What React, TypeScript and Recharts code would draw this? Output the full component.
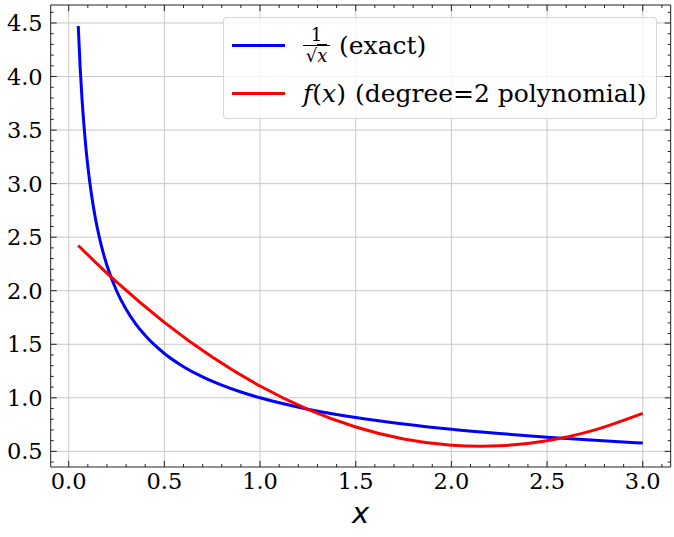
import React from 'react';
import { LineChart, Line, XAxis, YAxis, CartesianGrid, Legend } from 'recharts';

// 1/sqrt(x) curve
const exactX = [0.05, 0.06, 0.07, 0.08, 0.09, 0.1, 0.12, 0.14, 0.16, 0.18, 0.2, 0.25, 0.3, 0.35, 0.4, 0.5, 0.6, 0.7, 0.8, 0.9, 1.0, 1.25, 1.5, 1.75, 2.0, 2.25, 2.5, 2.75, 3.0];
const exactY = [4.472, 4.082, 3.78, 3.536, 3.333, 3.162, 2.887, 2.673, 2.5, 2.357, 2.236, 2.0, 1.826, 1.69, 1.581, 1.414, 1.291, 1.195, 1.118, 1.054, 1.0, 0.894, 0.816, 0.756, 0.707, 0.667, 0.632, 0.603, 0.577];

// degree-2 polynomial fit
const polyX = [0.05, 0.25, 0.5, 0.75, 1.0, 1.25, 1.5, 1.75, 2.0, 2.25, 2.5, 2.75, 3.0];
const polyY = [2.422, 2.082, 1.705, 1.381, 1.11, 0.892, 0.728, 0.616, 0.558, 0.552, 0.6, 0.701, 0.855];

const xMajorTicks = [0, 0.5, 1.0, 1.5, 2.0, 2.5, 3.0];
const xMinorTicks = [0.1, 0.2, 0.3, 0.4, 0.6, 0.7, 0.8, 0.9, 1.1, 1.2, 1.3, 1.4, 1.6, 1.7, 1.8, 1.9, 2.1, 2.2, 2.3, 2.4, 2.6, 2.7, 2.8, 2.9, 3.1];
const yMajorTicks = [0.5, 1.0, 1.5, 2.0, 2.5, 3.0, 3.5, 4.0, 4.5];
const yMinorTicks = [0.4, 0.6, 0.7, 0.8, 0.9, 1.1, 1.2, 1.3, 1.4, 1.6, 1.7, 1.8, 1.9, 2.1, 2.2, 2.3, 2.4, 2.6, 2.7, 2.8, 2.9, 3.1, 3.2, 3.3, 3.4, 3.6, 3.7, 3.8, 3.9, 4.1, 4.2, 4.3, 4.4, 4.6];

const exactData = exactX.map((x, i) => ({ x, exact: exactY[i] }));
const polyData = polyX.map((x, i) => ({ x, poly: polyY[i] }));
const xTicks = [...xMajorTicks, ...xMinorTicks].sort((a, b) => a - b);
const yTicks = [...yMajorTicks, ...yMinorTicks].sort((a, b) => a - b);

const W = 674;
const H = 537;
const X_DOMAIN: [number, number] = [-0.094, 3.146];
const Y_DOMAIN: [number, number] = [0.354, 4.668];
const AXIS = '#222';
const SERIF = '"DejaVu Serif", serif';
const SANS = '"DejaVu Sans", sans-serif';
const TICK_FONT = 22.5;

const isMajor = (v: number) => Math.abs(v * 2 - Math.round(v * 2)) < 1e-6;

// inward ticks (6px major, 3px minor) with matplotlib-like labels outside
const makeTick = (side: 'bottom' | 'top' | 'left' | 'right') => (p: any) => {
  const { x, y, payload } = p;
  const v = payload.value as number;
  const major = isMajor(v);
  const len = major ? 6 : 3;
  let line;
  if (side === 'bottom') line = { x1: x, x2: x, y1: y, y2: y - len };
  else if (side === 'top') line = { x1: x, x2: x, y1: y, y2: y + len };
  else if (side === 'left') line = { x1: x, x2: x + len, y1: y, y2: y };
  else line = { x1: x, x2: x - len, y1: y, y2: y };
  return (
    <g>
      <line {...line} stroke={AXIS} strokeWidth={1} />
      {major && side === 'bottom' && (
        <text x={x} y={y + 22.3} textAnchor="middle" fontFamily={SERIF} fontSize={TICK_FONT} fill="#000">
          {v.toFixed(1)}
        </text>
      )}
      {major && side === 'left' && (
        <text x={x - 8} y={y + 8.1} textAnchor="end" fontFamily={SERIF} fontSize={TICK_FONT} fill="#000">
          {v.toFixed(1)}
        </text>
      )}
    </g>
  );
};

const bottomTick = makeTick('bottom');
const topTick = makeTick('top');
const leftTick = makeTick('left');
const rightTick = makeTick('right');

const renderLegend = (props: any) => {
  const payload = props.payload || [];
  return (
    <div
      style={{
        boxSizing: 'border-box',
        width: 434,
        height: 102,
        border: '1px solid rgba(204,204,204,0.8)',
        borderRadius: 4,
        background: 'rgba(255,255,255,0.8)',
        position: 'relative',
        fontFamily: SERIF,
        fontSize: 25,
        color: '#000',
      }}
    >
      {payload.map((entry: any, i: number) => (
        <div
          key={entry.value}
          style={{
            position: 'absolute',
            left: 8,
            top: (i === 0 ? 27 : 75) - 20,
            height: 40,
            display: 'flex',
            alignItems: 'center',
            whiteSpace: 'nowrap',
          }}
        >
          <span style={{ display: 'inline-block', width: 53, height: 3, background: entry.color }} />
          <span style={{ marginLeft: 18, display: 'flex', alignItems: 'center' }}>
            {entry.dataKey === 'exact' ? (
              <>
                <span style={{ display: 'inline-flex', flexDirection: 'column', alignItems: 'center', width: 27, marginTop: 2 }}>
                  <span style={{ fontFamily: SERIF, fontSize: 18, lineHeight: '18px' }}>1</span>
                  <span style={{ width: 27, height: 1, background: '#000', marginTop: 1 }} />
                  <span style={{ fontFamily: SANS, fontSize: 18, lineHeight: '20px' }}>
                    √<span style={{ fontFamily: SERIF, fontStyle: 'italic', borderTop: '1px solid #000' }}>x</span>
                  </span>
                </span>
                <span style={{ marginLeft: 9 }}>(exact)</span>
              </>
            ) : (
              <>
                <span>
                  <i>f</i>(<i>x</i>)
                </span>
                <span style={{ marginLeft: 9 }}>(degree=2 polynomial)</span>
              </>
            )}
          </span>
        </div>
      ))}
    </div>
  );
};

export default function App() {
  return (
    <div style={{ position: 'absolute', left: 0, top: 0, width: W, height: H, background: '#fff' }}>
      <LineChart width={W} height={H} margin={{ top: 0, right: 0, bottom: 0, left: 0 }}>
        <CartesianGrid verticalValues={xMajorTicks} horizontalValues={yMajorTicks} stroke="#c8c8c8" strokeWidth={1} />

        <XAxis type="number" dataKey="x" domain={X_DOMAIN} allowDataOverflow ticks={xTicks} interval={0}
          height={70} tick={bottomTick} tickSize={0} tickMargin={0} tickLine={false} axisLine={{ stroke: AXIS }}
          label={{
            content: (p: any) => {
              const vb = p.viewBox || { x: 50.7, y: 467, width: 620, height: 70 };
              return (
                <text x={vb.x + vb.width / 2} y={vb.y + vb.height - 14} textAnchor="middle"
                  fontFamily={SANS} fontStyle="italic" fontSize={29} fill="#000">x</text>
              );
            },
          }} />
        <XAxis xAxisId="top" orientation="top" type="number" dataKey="x" domain={X_DOMAIN} allowDataOverflow
          ticks={xTicks} interval={0} height={5} tick={topTick} tickSize={0} tickMargin={0} tickLine={false}
          axisLine={{ stroke: AXIS }} />

        <YAxis type="number" domain={Y_DOMAIN} allowDataOverflow ticks={yTicks} interval={0}
          width={50.7} tick={leftTick} tickSize={0} tickMargin={0} tickLine={false} axisLine={{ stroke: AXIS }} />
        <YAxis yAxisId="right" orientation="right" type="number" domain={Y_DOMAIN} allowDataOverflow ticks={yTicks}
          interval={0} width={3.3} tick={rightTick} tickSize={0} tickMargin={0} tickLine={false}
          axisLine={{ stroke: AXIS }} />

        <Line data={exactData} type="monotone" dataKey="exact" name="exact" stroke="#0000ff"
          strokeWidth={3} dot={false} isAnimationActive={false} />
        <Line data={polyData} type="natural" dataKey="poly" name="poly" stroke="#ff0000"
          strokeWidth={3} dot={false} isAnimationActive={false} />

        <Legend layout="horizontal" verticalAlign="middle" align="center" content={renderLegend}
          wrapperStyle={{ position: 'absolute', left: 223, top: 17, width: 434, height: 102 }} />
      </LineChart>
    </div>
  );
}
